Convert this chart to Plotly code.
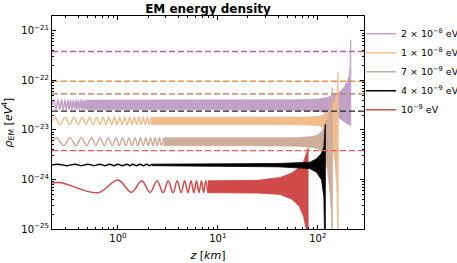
import plotly.graph_objects as go

# ---------------- data ----------------
Z_MIN, Z_MAX = 0.219, 290.0
RHO_MIN_EXP, RHO_MAX_EXP = -25, -20.7

masses = ["2 × 10<sup>−8</sup> eV", "1 × 10<sup>−8</sup> eV", "7 × 10<sup>−9</sup> eV",
          "4 × 10<sup>−9</sup> eV", "10<sup>−9</sup> eV"]

# horizontal dashed reference levels
dash_levels = [3.82e-22, 9.6e-23, 5.35e-23, 2.4e-23, 3.82e-24]

# purple (2e-8 eV): resolved oscillation turning points, then dense band
purple_osc_z = [0.219, 0.229, 0.240, 0.251, 0.262, 0.273, 0.284, 0.295, 0.305, 0.316, 0.326,
                0.336, 0.346, 0.357, 0.368, 0.380, 0.390, 0.401, 0.412, 0.424, 0.435, 0.446,
                0.457, 0.468, 0.479, 0.490]
purple_osc_rho = [3.2e-23, 4.0e-23, 2.55e-23, 4.0e-23, 2.55e-23, 4.0e-23, 2.55e-23, 4.0e-23,
                  2.55e-23, 4.0e-23, 2.55e-23, 4.0e-23, 2.55e-23, 4.0e-23, 2.55e-23, 4.0e-23,
                  2.55e-23, 4.0e-23, 2.55e-23, 4.0e-23, 2.55e-23, 4.0e-23, 2.55e-23, 4.0e-23,
                  2.55e-23, 4.0e-23]
purple_band_z = [0.49, 10, 60, 100, 125, 140, 160, 180, 195, 205, 210, 214]
purple_band_hi = [4.0e-23, 4.0e-23, 4.05e-23, 4.2e-23, 4.5e-23, 5.0e-23, 5.5e-23, 7.0e-23,
                  9.0e-23, 1.2e-22, 1.8e-22, 6.6e-22]
purple_band_lo = [2.55e-23, 2.55e-23, 2.5e-23, 2.4e-23, 2.2e-23, 2.0e-23, 1.8e-23, 1.5e-23,
                  1.35e-23, 1.3e-23, 1.25e-23, 1.2e-23]

# orange (1e-8 eV)
orange_osc_z = [0.219, 0.234, 0.264, 0.295, 0.329, 0.363, 0.40, 0.44, 0.48, 0.52, 0.565,
                0.61, 0.66, 0.71, 0.76, 0.81, 0.865, 0.92, 0.98, 1.04, 1.10, 1.17, 1.24,
                1.31, 1.38, 1.46, 1.54, 1.62, 1.70, 1.79, 1.88, 1.97, 2.06, 2.16]
orange_osc_rho = [1.5e-23, 1.8e-23, 1.28e-23, 1.8e-23, 1.28e-23, 1.8e-23, 1.28e-23, 1.8e-23,
                  1.28e-23, 1.8e-23, 1.28e-23, 1.8e-23, 1.28e-23, 1.8e-23, 1.28e-23, 1.8e-23,
                  1.28e-23, 1.8e-23, 1.28e-23, 1.8e-23, 1.28e-23, 1.8e-23, 1.28e-23, 1.8e-23,
                  1.28e-23, 1.8e-23, 1.28e-23, 1.8e-23, 1.28e-23, 1.8e-23, 1.28e-23, 1.8e-23,
                  1.28e-23, 1.8e-23]
orange_band_z = [2.16, 30, 80, 105, 118, 130, 140, 150, 156, 160]
orange_band_hi = [1.8e-23, 1.8e-23, 1.82e-23, 1.9e-23, 2.1e-23, 2.5e-23, 3.0e-23, 4.2e-23,
                  6.0e-23, 1.5e-22]
orange_band_lo = [1.28e-23, 1.28e-23, 1.26e-23, 1.2e-23, 1.1e-23, 8.0e-24, 5.0e-24, 2.0e-24,
                  5.0e-25, 1.0e-26]

# tan (7e-9 eV)
tan_osc_z = [0.219, 0.243, 0.287, 0.331, 0.38, 0.43, 0.487, 0.545, 0.60, 0.66, 0.73, 0.80,
             0.88, 0.955, 1.03, 1.11, 1.20, 1.29, 1.38, 1.48, 1.58, 1.68, 1.79, 1.90, 2.01,
             2.12, 2.24, 2.36, 2.48, 2.60, 2.73, 2.86]
tan_osc_rho = [5.9e-24, 6.95e-24, 4.8e-24, 6.95e-24, 4.8e-24, 6.95e-24, 4.8e-24, 6.95e-24,
               4.8e-24, 6.95e-24, 4.8e-24, 6.95e-24, 4.8e-24, 6.95e-24, 4.8e-24, 6.95e-24,
               4.8e-24, 6.95e-24, 4.8e-24, 6.95e-24, 4.8e-24, 6.95e-24, 4.8e-24, 6.95e-24,
               4.8e-24, 6.95e-24, 4.8e-24, 6.95e-24, 4.8e-24, 6.95e-24, 4.8e-24, 6.95e-24]
tan_band_z = [2.86, 20, 60, 90, 100, 110, 118, 125, 132, 137, 140]
tan_band_hi = [6.95e-24, 6.9e-24, 6.95e-24, 7.4e-24, 8.0e-24, 9.5e-24, 1.26e-23, 1.7e-23,
               2.5e-23, 3.8e-23, 7.1e-23]
tan_band_lo = [4.8e-24, 4.8e-24, 4.7e-24, 4.4e-24, 4.2e-24, 3.6e-24, 2.5e-24, 1.6e-24,
               6.0e-25, 2.0e-25, 1.0e-26]

# black (4e-9 eV)
black_osc_z = [0.219, 0.25, 0.31, 0.37, 0.43, 0.50, 0.58, 0.66, 0.74, 0.83, 0.91, 1.0, 1.11,
               1.23, 1.32, 1.41, 1.53, 1.66, 1.80, 1.95, 2.07, 2.19]
black_osc_rho = [1.98e-24, 2.04e-24, 1.9e-24, 2.04e-24, 1.9e-24, 2.04e-24, 1.9e-24, 2.04e-24,
                 1.9e-24, 2.04e-24, 1.9e-24, 2.04e-24, 1.9e-24, 2.04e-24, 1.9e-24, 2.04e-24,
                 1.9e-24, 2.04e-24, 1.9e-24, 2.04e-24, 1.9e-24, 2.04e-24]
black_band_z = [2.19, 10, 40, 83, 97, 109, 115, 119]
black_band_hi = [2.04e-24, 2.06e-24, 2.1e-24, 2.22e-24, 2.6e-24, 3.4e-24, 4.6e-24, 1.3e-23]
black_band_lo = [1.9e-24, 1.86e-24, 1.8e-24, 1.66e-24, 1.4e-24, 9.8e-25, 4.5e-25, 1.0e-26]

# red (1e-9 eV)
red_osc_z = [0.219, 0.27, 0.63, 1.0, 1.37, 1.73, 2.10, 2.46, 2.83, 3.19, 3.56, 3.92, 4.29,
             4.65, 5.02, 5.38, 5.75, 6.11, 6.48, 6.84, 7.21, 7.57, 7.94]
red_osc_rho = [8.5e-25, 8.6e-25, 5.4e-25, 9.7e-25, 5.5e-25, 9.4e-25, 5.45e-25, 9.4e-25,
               5.4e-25, 9.4e-25, 5.4e-25, 9.4e-25, 5.4e-25, 9.4e-25, 5.4e-25, 9.4e-25,
               5.4e-25, 9.4e-25, 5.4e-25, 9.4e-25, 5.4e-25, 9.4e-25, 5.4e-25]
red_band_z = [7.94, 25, 42, 55, 65, 72, 77, 80]
red_band_hi = [9.4e-25, 9.6e-25, 1.1e-24, 1.35e-24, 1.75e-24, 2.3e-24, 3.4e-24, 4.3e-24]
red_band_lo = [5.4e-25, 5.3e-25, 5.0e-25, 4.0e-25, 2.9e-25, 1.8e-25, 9.5e-26, 1.0e-26]

x_tick_vals = [1, 10, 100]
x_tick_text = ["10<sup>0</sup>", "10<sup>1</sup>", "10<sup>2</sup>"]
y_tick_vals = [1e-25, 1e-24, 1e-23, 1e-22, 1e-21]
y_tick_text = ["10<sup>−25</sup>", "10<sup>−24</sup>", "10<sup>−23</sup>",
               "10<sup>−22</sup>", "10<sup>−21</sup>"]
x_minor = [0.3, 0.4, 0.5, 0.6, 0.7, 0.8, 0.9, 2, 3, 4, 5, 6, 7, 8, 9,
           20, 30, 40, 50, 60, 70, 80, 90, 200]
y_minor = [m * 10.0 ** e for e in (-25, -24, -23, -22, -21) for m in range(2, 10)]

# ---------------- styling ----------------
line_colors = ["rgb(194,161,200)", "rgb(240,189,141)", "rgb(208,173,155)", "black",
               "rgb(208,74,74)"]
dash_colors = ["rgb(158,108,168)", "rgb(232,146,72)", "rgb(181,122,92)", "rgb(35,35,35)",
               "rgb(224,94,94)"]

series = [
    (purple_osc_z, purple_osc_rho, purple_band_z, purple_band_hi, purple_band_lo),
    (orange_osc_z, orange_osc_rho, orange_band_z, orange_band_hi, orange_band_lo),
    (tan_osc_z, tan_osc_rho, tan_band_z, tan_band_hi, tan_band_lo),
    (black_osc_z, black_osc_rho, black_band_z, black_band_hi, black_band_lo),
    (red_osc_z, red_osc_rho, red_band_z, red_band_hi, red_band_lo),
]
draw_order = [0, 1, 2, 4, 3]

fig = go.Figure()
for i in draw_order:
    oz, orho, bz, bhi, blo = series[i]
    col = line_colors[i]
    fig.add_trace(go.Scatter(
        x=bz + bz[::-1], y=bhi + blo[::-1], mode="lines", fill="toself",
        fillcolor=col, line=dict(color=col, width=0.8), showlegend=False,
        legendgroup=str(i), hoverinfo="skip"))
    fig.add_trace(go.Scatter(
        x=oz, y=orho, mode="lines", line=dict(color=col, width=1.5, shape="spline"),
        name=masses[i], legendgroup=str(i), legendrank=i + 1))

for i, lev in enumerate(dash_levels):
    fig.add_trace(go.Scatter(
        x=[Z_MIN, Z_MAX], y=[lev, lev], mode="lines",
        line=dict(color=dash_colors[i], width=1.4, dash="6px,3px"),
        showlegend=False, hoverinfo="skip"))

font_main = "DejaVu Sans"
axis_common = dict(
    showline=True, linecolor="black", linewidth=1.3, mirror="ticks",
    ticks="inside", ticklen=4, tickwidth=1, tickcolor="black",
    showgrid=False, zeroline=False, tickmode="array",
    tickfont=dict(family=font_main, size=10, color="black"),
)

fig.update_layout(
    width=457, height=263,
    margin=dict(l=52, r=93, t=16, b=34, autoexpand=False),
    paper_bgcolor="white", plot_bgcolor="white",
    font=dict(family=font_main, color="black"),
    title=dict(text="<b>EM energy density</b>", x=0.5, xref="paper", xanchor="center",
               y=0.966, yref="container", yanchor="middle",
               font=dict(family=font_main, size=12, color="black")),
    xaxis=dict(type="log", range=[-0.6596, 2.4624], tickvals=x_tick_vals,
               ticktext=x_tick_text,
               minor=dict(ticks="inside", ticklen=2.2, tickwidth=0.8, tickcolor="black",
                          tickmode="array", tickvals=x_minor, showgrid=False),
               title=dict(text="<i>z</i> [<i>km</i>]", standoff=8,
                          font=dict(family=font_main, size=11)),
               **axis_common),
    yaxis=dict(type="log", range=[RHO_MIN_EXP, RHO_MAX_EXP], tickvals=y_tick_vals,
               ticktext=y_tick_text,
               minor=dict(ticks="inside", ticklen=2.2, tickwidth=0.8, tickcolor="black",
                          tickmode="array", tickvals=y_minor, showgrid=False),
               title=dict(text="<i>ρ</i><sub>EM</sub> [<i>eV</i><sup>4</sup>]", standoff=9,
                          font=dict(family=font_main, size=11)),
               **axis_common),
    legend=dict(x=0.99, xanchor="left", y=0.985, yanchor="top",
                font=dict(family=font_main, size=9.5, color="black"),
                bgcolor="rgba(0,0,0,0)", tracegroupgap=0, itemwidth=30),
    showlegend=True,
)

fig.write_html("out.html", config={"displayModeBar": False},
               post_script="document.body.style.margin='0';document.body.style.padding='0';")
